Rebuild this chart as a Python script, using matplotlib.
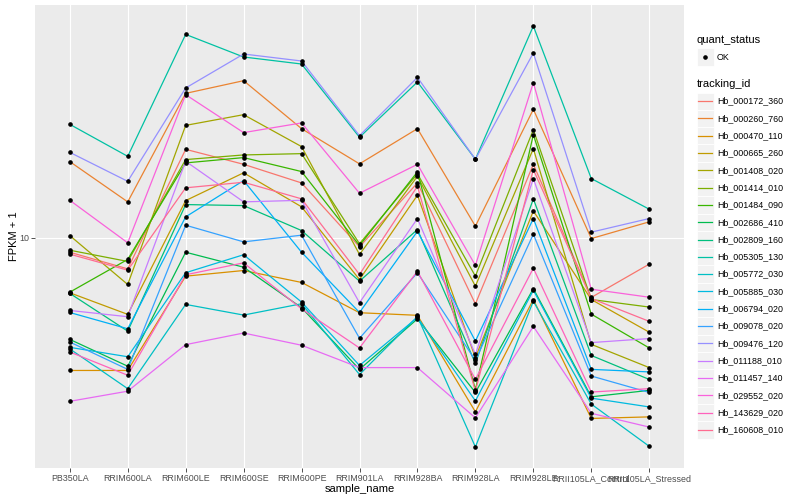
import matplotlib
matplotlib.use("Agg")
import matplotlib.pyplot as plt
import numpy as np
from matplotlib.patches import Rectangle
from matplotlib.lines import Line2D

W, H = 800, 500

samples = ["PB350LA", "RRIM600LA", "RRIM600LE", "RRIM600SE", "RRIM600PE",
           "RRIM901LA", "RRIM928BA", "RRIM928LA", "RRIM928LE",
           "RRII105LA_Control", "RRII105LA_Stressed"]

tracking_ids = ["Hb_000172_360", "Hb_000260_760", "Hb_000470_110", "Hb_000665_260",
                "Hb_001408_020", "Hb_001414_010", "Hb_001484_090", "Hb_002686_410",
                "Hb_002809_160", "Hb_005305_130", "Hb_005772_030", "Hb_005885_030",
                "Hb_006794_020", "Hb_009078_020", "Hb_009476_120", "Hb_011188_010",
                "Hb_011457_140", "Hb_029552_020", "Hb_143629_020", "Hb_160608_010"]

# ggplot hue palette, 20 levels
colors = ["#F8766D", "#EA8331", "#D89000", "#C09B00", "#A3A500", "#7CAE00",
          "#39B600", "#00BB4E", "#00BF7D", "#00C1A3", "#00BFC4", "#00BAE0",
          "#00B0F6", "#35A2FF", "#9590FF", "#C77CFF", "#E76BF3", "#FA62DB",
          "#FF62BC", "#FF6C91"]

# FPKM + 1 per sample
hb_000172_360 = [8.93, 7.86, 19.69, 17.55, 15.21, 9.31, 15.21, 6.00, 17.55, 6.31, 8.15]
hb_000260_760 = [17.92, 13.15, 30.27, 33.37, 23.08, 17.61, 23.08, 10.91, 26.78, 9.92, 11.28]
hb_000470_110 = [3.60, 3.60, 7.43, 7.76, 7.08, 5.61, 5.50, 2.62, 6.21, 2.49, 2.52]
hb_000665_260 = [6.54, 5.54, 13.28, 16.44, 12.66, 7.24, 13.84, 3.97, 12.27, 6.21, 4.83]
hb_001408_020 = [10.15, 6.97, 23.67, 25.70, 20.11, 8.78, 16.01, 6.88, 19.80, 4.40, 3.68]
hb_001414_010 = [9.07, 8.32, 18.20, 18.86, 19.05, 9.53, 16.31, 7.43, 22.91, 6.21, 5.86]
hb_001484_090 = [6.57, 8.45, 17.74, 18.48, 16.60, 9.40, 16.56, 3.11, 22.04, 5.55, 4.28]
hb_002686_410 = [4.57, 3.72, 8.93, 7.96, 5.83, 3.63, 5.35, 3.04, 6.75, 2.94, 3.09]
hb_002809_160 = [6.51, 4.87, 12.88, 12.78, 10.55, 7.15, 10.63, 3.80, 13.46, 4.04, 3.36]
hb_005305_130 = [23.86, 18.66, 47.62, 40.03, 37.93, 21.60, 33.04, 18.24, 50.78, 15.73, 12.43]
hb_005772_030 = [4.25, 3.13, 5.98, 5.51, 6.01, 3.49, 5.45, 2.00, 6.13, 2.78, 2.01]
hb_005885_030 = [4.30, 4.00, 7.63, 8.76, 6.09, 3.74, 5.41, 2.85, 6.67, 2.91, 2.72]
hb_006794_020 = [5.62, 4.96, 11.72, 15.49, 8.93, 5.62, 10.49, 4.51, 11.57, 3.63, 3.56]
hb_009078_020 = [4.48, 3.63, 10.99, 9.67, 10.18, 4.61, 7.63, 3.89, 10.26, 3.45, 3.04]
hb_009476_120 = [19.24, 15.40, 31.55, 40.96, 38.82, 21.88, 34.22, 18.24, 41.28, 10.42, 11.57]
hb_011188_010 = [5.71, 5.44, 17.96, 13.15, 13.31, 6.06, 11.57, 4.07, 15.73, 4.46, 4.60]
hb_011457_140 = [2.84, 3.07, 4.39, 4.80, 4.37, 3.68, 3.68, 2.50, 5.05, 2.59, 2.33]
hb_029552_020 = [13.31, 9.60, 29.97, 22.39, 24.12, 14.05, 17.55, 8.07, 32.86, 6.72, 6.32]
hb_143629_020 = [4.15, 3.47, 7.51, 8.23, 5.78, 4.28, 7.72, 3.36, 7.90, 3.05, 3.13]
hb_160608_010 = [8.80, 7.78, 14.65, 15.29, 13.46, 7.53, 14.83, 3.07, 16.85, 6.26, 5.25]

series = [hb_000172_360, hb_000260_760, hb_000470_110, hb_000665_260, hb_001408_020,
          hb_001414_010, hb_001484_090, hb_002686_410, hb_002809_160, hb_005305_130,
          hb_005772_030, hb_005885_030, hb_006794_020, hb_009078_020, hb_009476_120,
          hb_011188_010, hb_011457_140, hb_029552_020, hb_143629_020, hb_160608_010]

plt.rcParams["font.family"] = ["Liberation Sans", "DejaVu Sans"]

fig = plt.figure(figsize=(W / 100, H / 100), dpi=100)
ax = fig.add_axes([35 / W, 1 - 468 / H, (684 - 35) / W, (468 - 5) / H])
ax.set_facecolor("#EBEBEB")

x = np.arange(len(samples))
for vals, col in zip(series, colors):
    ax.plot(x, vals, color=col, linewidth=0.9, zorder=2)
for vals in series:
    ax.plot(x, vals, linestyle="none", marker="o", markersize=2.3,
            color="black", zorder=3)

ax.set_yscale("log")
all_vals = np.log10(np.concatenate([np.array(s) for s in series]))
lo, hi = all_vals.min(), all_vals.max()
pad = 0.05 * (hi - lo)
ax.set_ylim(10 ** (lo - pad), 10 ** (hi + pad))
ax.set_xlim(-0.6, len(samples) - 0.4)

ax.set_yticks([10])
ax.set_yticklabels(["10"])
ax.yaxis.set_minor_locator(matplotlib.ticker.NullLocator())
ax.set_xticks(x)
ax.set_xticklabels(samples)

ax.grid(True, which="major", color="white", linewidth=0.8, zorder=0)
ax.set_axisbelow(True)
for s in ax.spines.values():
    s.set_visible(False)
ax.tick_params(axis="both", length=2.75 * 0.72 * 1.39, width=0.6, color="#333333",
               labelsize=6.4, labelcolor="#4D4D4D", pad=1.5)

ax.set_xlabel("sample_name", fontsize=8, color="black", labelpad=1)
ax.set_ylabel("FPKM + 1", fontsize=8, color="black", labelpad=0)


def fx(px):
    return px / W


def fy(py):
    return 1 - py / H


key = 17.3
lx = 696.5
# quant_status legend
fig.text(fx(lx), fy(40), "quant_status", fontsize=8, va="center", ha="left")
fig.add_artist(Rectangle((fx(lx), fy(48.5 + key)), key / W, key / H,
                         transform=fig.transFigure, facecolor="#F2F2F2",
                         edgecolor="white", linewidth=0.6))
fig.add_artist(Line2D([fx(lx + key / 2)], [fy(48.5 + key / 2)], marker="o",
                      markersize=2.3, color="black", transform=fig.transFigure))
fig.text(fx(lx + key + 3), fy(48.5 + key / 2), "OK", fontsize=6.4, va="center", ha="left")

# tracking_id legend
fig.text(fx(lx), fy(84), "tracking_id", fontsize=8, va="center", ha="left")
top = 92.5
for i, (tid, col) in enumerate(zip(tracking_ids, colors)):
    y0 = top + i * key
    fig.add_artist(Rectangle((fx(lx), fy(y0 + key)), key / W, key / H,
                             transform=fig.transFigure, facecolor="#F2F2F2",
                             edgecolor="white", linewidth=0.6))
    fig.add_artist(Line2D([fx(lx + 1.5), fx(lx + key - 1.5)],
                          [fy(y0 + key / 2)] * 2, color=col, linewidth=0.9,
                          transform=fig.transFigure))
    fig.text(fx(lx + key + 3), fy(y0 + key / 2), tid, fontsize=6.4,
             va="center", ha="left")

fig.savefig("out.png", dpi=100)
